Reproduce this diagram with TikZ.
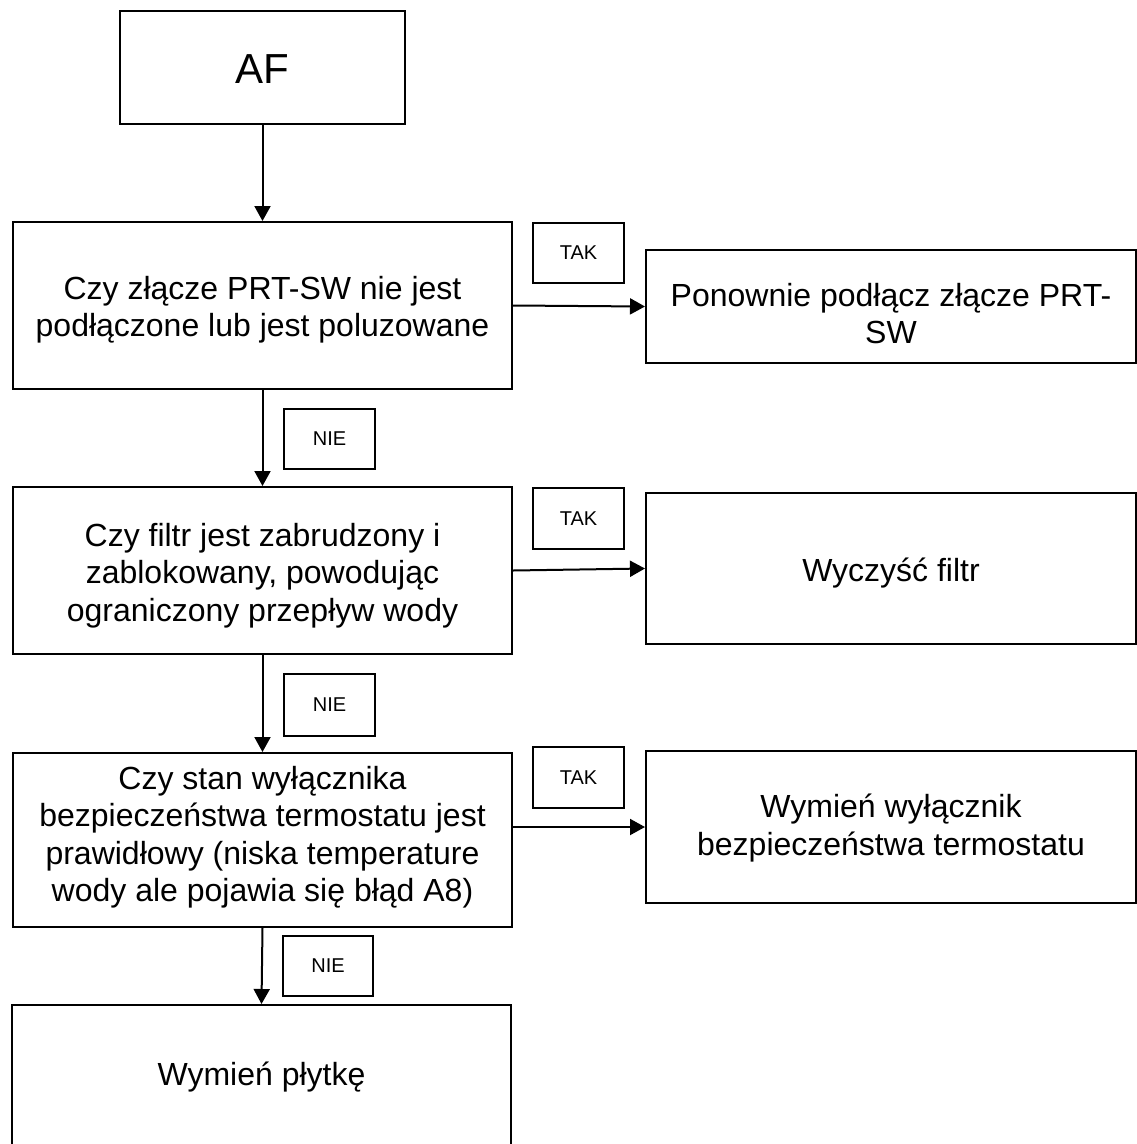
\documentclass[tikz,border=0pt]{standalone}
\usepackage{fontspec}
\setmainfont{Liberation Sans}
\usetikzlibrary{arrows.meta}
\begin{document}
\begin{tikzpicture}[x=1pt,y=-1pt,
  box/.style={draw, line width=2pt, inner sep=0pt},
  txt/.style={inner sep=0pt, align=center, font=\fontsize{32}{37.5}\selectfont},
  lbl/.style={draw, line width=1.6pt, inner sep=0pt,
    font=\fontsize{20}{24}\selectfont},
  arr/.style={line width=2pt, -{Triangle[length=15pt,width=16pt]}}]
\clip (0,0) rectangle (1137,1144);
\fill[white] (0,0) rectangle (1137,1144);
% main column
\node[box, minimum width=285pt, minimum height=113pt] (af) at (262.5,67.5) {};
\node[txt, font=\fontsize{42}{48}\selectfont] (aft) at ([yshift=-2pt]af.center) {AF};
\node[box, minimum width=499pt, minimum height=167pt] (q1) at (262.5,305.5) {};
\node[txt] (q1t) at ([yshift=-4pt]q1.center)
  {Czy złącze PRT-SW nie jest\\podłączone lub jest poluzowane};
\node[box, minimum width=499pt, minimum height=167pt] (q2) at (262.5,570.5) {};
\node[txt] (q2t) at ([yshift=-5pt]q2.center)
  {Czy filtr jest zabrudzony i\\zablokowany, powodując\\ograniczony przepływ wody};
\node[box, minimum width=499pt, minimum height=174pt] (q3) at (262.5,840) {};
\node[txt] (q3t) at ([yshift=3pt]q3.center)
  {Czy stan wyłącznika\\bezpieczeństwa termostatu jest\\prawidłowy (niska temperature\\wody ale pojawia się błąd A8)};
\node[box, minimum width=499pt, minimum height=145pt] (q4) at (261.5,1077.5) {};
\node[txt] (q4t) at ([yshift=0pt]q4.center) {Wymień płytkę};
% right column
\node[box, minimum width=490pt, minimum height=113pt] (r1) at (891,306.5) {};
\node[txt] (r1t) at ([yshift=-7pt]r1.center) {Ponownie podłącz złącze PRT-\\SW};
\node[box, minimum width=490pt, minimum height=151pt] (r2) at (891,568.5) {};
\node[txt] (r2t) at ([yshift=-5pt]r2.center) {Wyczyść filtr};
\node[box, minimum width=490pt, minimum height=152pt] (r3) at (891,827) {};
\node[txt] (r3t) at ([yshift=-1pt]r3.center) {Wymień wyłącznik\\bezpieczeństwa termostatu};
% labels
\node[lbl, minimum width=91pt, minimum height=60pt] (t1) at (578.5,253) {TAK};
\node[lbl, minimum width=91pt, minimum height=61pt] (t2) at (578.5,518.5) {TAK};
\node[lbl, minimum width=91pt, minimum height=61pt] (t3) at (578.5,777.5) {TAK};
\node[lbl, minimum width=91pt, minimum height=60pt] (n1) at (329.5,439) {NIE};
\node[lbl, minimum width=91pt, minimum height=62pt] (n2) at (329.5,705) {NIE};
\node[lbl, minimum width=90pt, minimum height=60pt] (n3) at (328,966) {NIE};
% connectors
\draw[arr] (af.south) -- (q1.north);
\draw[arr] (q1.south) -- (q2.north);
\draw[arr] (q2.south) -- (q3.north);
\draw[arr] (q3.south) -- (q4.north);
\draw[arr] (q1.east) -- (r1.west);
\draw[arr] (q2.east) -- (r2.west);
\draw[arr] (q3.east |- r3.west) -- (r3.west);
\end{tikzpicture}
\end{document}
